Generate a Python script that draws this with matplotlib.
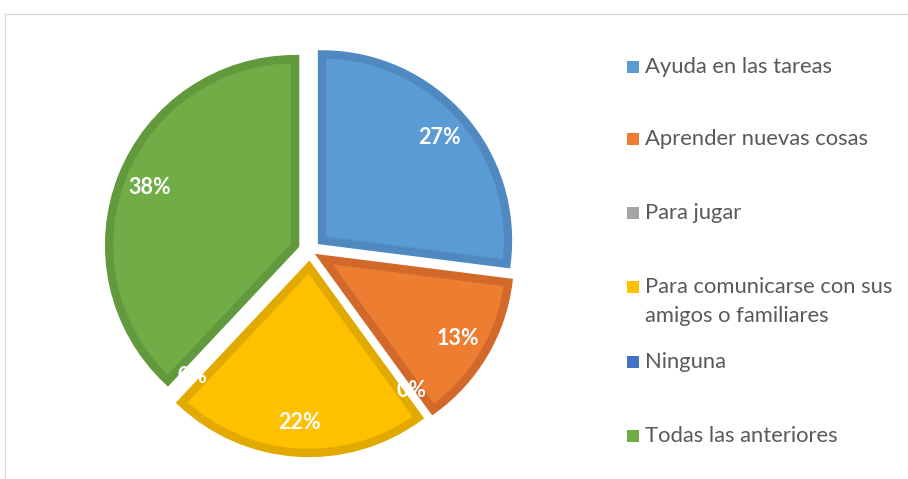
import matplotlib.pyplot as plt
from matplotlib.patches import Rectangle
from matplotlib.lines import Line2D

# Data
categories = ['Ayuda en las tareas', 'Aprender nuevas cosas', 'Para jugar',
              'Para comunicarse con sus\namigos o familiares', 'Ninguna',
              'Todas las anteriores']
values = [27, 13, 0, 22, 0, 38]
fill_colors = ['#5B9BD5', '#ED7D31', '#A5A5A5', '#FFC000', '#4472C4', '#70AD47']
edge_colors = ['#4F89C0', '#D2692A', '#8F8F8F', '#E2A900', '#3A63AB', '#62993D']

plt.rcParams['font.family'] = ['Lato', 'DejaVu Sans']

fig = plt.figure(figsize=(9.08, 4.79), dpi=100)
ax = fig.add_axes([0, 0, 1, 1])

# explode is in data units here (pixels), not a fraction of the radius
wedges, texts, autotexts = ax.pie(
    values, colors=fill_colors, startangle=90, counterclock=False,
    center=(310, 479 - 251), radius=186, explode=[16] * len(values),
    autopct='%1.0f%%', pctdistance=0.84,
    wedgeprops=dict(linewidth=6, joinstyle='miter'),
    textprops=dict(color='white', fontsize=15.5, fontweight='bold'),
    frame=True)
ax.set_xlim(0, 908)
ax.set_ylim(0, 479)
ax.set_aspect('equal')
ax.axis('off')

for w, v, ec in zip(wedges, values, edge_colors):
    if v == 0:
        w.set_visible(False)
    else:
        w.set_edgecolor(ec)

# legend drawn by hand to follow the reference spacing
legend_y = [67, 139, 213, 287, 362, 436]
for lab, col, y in zip(categories, fill_colors, legend_y):
    fig.patches.append(Rectangle((627 / 908, 1 - (y + 6) / 479), 12 / 908, 12 / 479,
                                 transform=fig.transFigure, facecolor=col,
                                 edgecolor='none'))
    if '\n' in lab:
        fig.text(645 / 908, 1 - (y - 10) / 479, lab, fontsize=15.8, color='#595959',
                 va='top', ha='left', linespacing=1.55)
    else:
        fig.text(645 / 908, 1 - y / 479, lab, fontsize=15.8, color='#595959',
                 va='center', ha='left')

# chart area border (partially cropped)
fig.add_artist(Line2D([5 / 908, 1], [1 - 14 / 479, 1 - 14 / 479],
                      transform=fig.transFigure, color='#D9D9D9', lw=1))
fig.add_artist(Line2D([5 / 908, 5 / 908], [1 - 14 / 479, 0],
                      transform=fig.transFigure, color='#D9D9D9', lw=1))

fig.savefig('out.png', dpi=100)
